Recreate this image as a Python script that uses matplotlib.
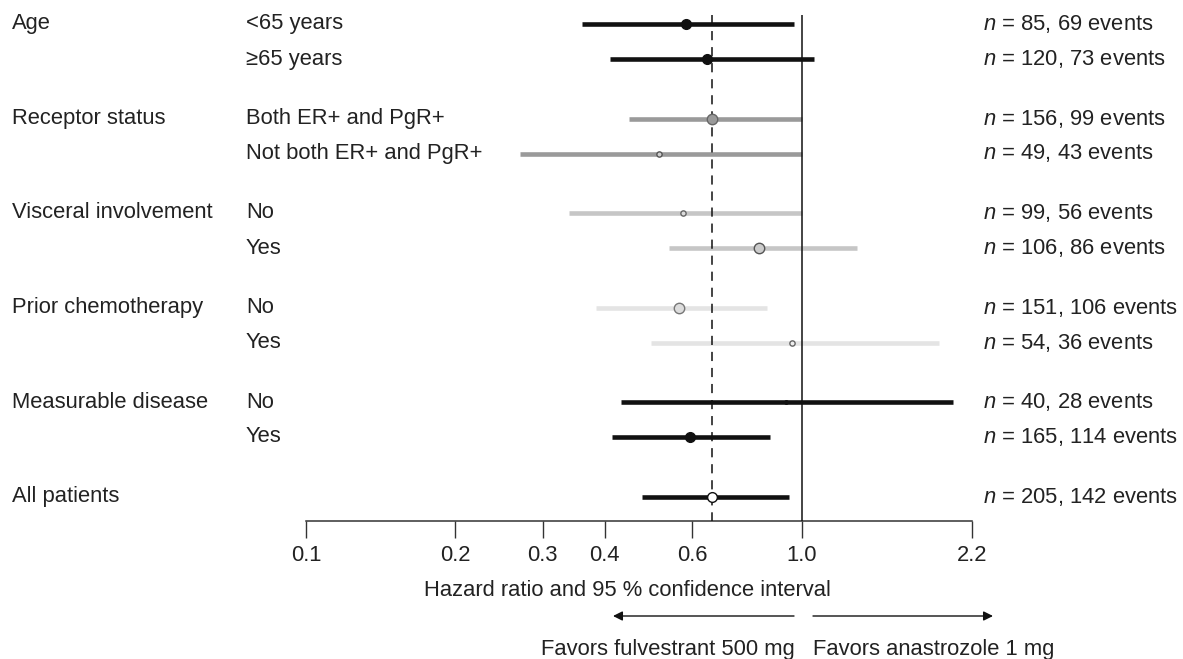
import matplotlib
matplotlib.use('Agg')
import matplotlib.pyplot as plt
from matplotlib import transforms
import numpy as np

plt.rcParams['font.family'] = ['Liberation Sans', 'DejaVu Sans']
plt.rcParams['mathtext.fontset'] = 'custom'
plt.rcParams['mathtext.rm'] = 'Liberation Sans'
plt.rcParams['mathtext.it'] = 'Liberation Sans:italic'

# data
groups = ['Age', 'Receptor status', 'Visceral involvement', 'Prior chemotherapy',
          'Measurable disease', 'All patients']
subgroups = [['<65 years', '\u226565 years'],
             ['Both ER+ and PgR+', 'Not both ER+ and PgR+'],
             ['No', 'Yes'],
             ['No', 'Yes'],
             ['No', 'Yes'],
             ['']]
hr = [[0.583, 0.643], [0.659, 0.515], [0.575, 0.819], [0.565, 0.955], [0.928, 0.594], [0.659]]
lower = [[0.360, 0.410], [0.448, 0.270], [0.339, 0.539], [0.384, 0.496], [0.432, 0.414], [0.476]]
upper = [[0.963, 1.057], [1.0, 1.0], [1.0, 1.29], [0.850, 1.889], [2.016, 0.862], [0.941]]
n_pat = [[85, 120], [156, 49], [99, 106], [151, 54], [40, 165], [205]]
n_evt = [[69, 73], [99, 43], [56, 86], [106, 36], [28, 114], [142]]
xticks = [0.1, 0.2, 0.3, 0.4, 0.6, 1.0, 2.2]
xtick_labels = ['0.1', '0.2', '0.3', '0.4', '0.6', '1.0', '2.2']

# styles per group
line_col = ['#111111', '#9a9a9a', '#c6c6c6', '#e4e4e4', '#111111', '#111111']
mfc = [['#111111', '#111111'], ['#9a9a9a', '#cfcfcf'], ['#dcdcdc', '#cccccc'],
       ['#dddddd', '#eeeeee'], ['#111111', '#111111'], ['white']]
mec = [['#111111', '#111111'], ['#666666', '#555555'], ['#666666', '#555555'],
       ['#777777', '#666666'], ['#111111', '#111111'], ['#111111']]
msize = [[7, 7], [7.5, 3.8], [3.8, 7.5], [7.5, 3.8], [2.5, 7], [7]]

txt_col = '#222222'
fs = 15.8

fig = plt.figure(figsize=(11.83, 6.59), dpi=100)
W, H = 1183.0, 659.0
ax = fig.add_axes([306 / W, 1 - 521 / H, 666 / W, 521 / H])
ax.set_xscale('log')
ax.set_xlim(0.1, 2.2)
ax.set_ylim(497 / 35.0, -24 / 35.0)

trans = transforms.blended_transform_factory(fig.transFigure, ax.transData)

y = 0.0
for g in range(len(groups)):
    ax.text(12 / W, y, groups[g], transform=trans, ha='left', va='center',
            fontsize=fs, color=txt_col)
    for k in range(len(subgroups[g])):
        yy = y + k
        ax.hlines(yy, lower[g][k], upper[g][k], color=line_col[g], lw=3.3,
                  capstyle='butt', zorder=2)
        ax.plot(hr[g][k], yy, 'o', ms=msize[g][k], mfc=mfc[g][k], mec=mec[g][k],
                mew=1.0, zorder=4)
        if subgroups[g][k]:
            ax.text(246 / W, yy, subgroups[g][k], transform=trans, ha='left',
                    va='center', fontsize=fs, color=txt_col)
        ax.text(983 / W, yy, '$n$ = %d, %d events' % (n_pat[g][k], n_evt[g][k]),
                transform=trans, ha='left', va='center', fontsize=fs, color=txt_col)
    y += len(subgroups[g]) - 1 + 1.7

ybot = ax.get_ylim()[0]
ytop = -9 / 35.0
ax.vlines(1.0, ytop, ybot, color='#111111', lw=1.1, zorder=3)
ax.vlines(hr[-1][0], ytop, ybot, color='#111111', lw=1.1, linestyles=(0, (6, 4.5)),
          zorder=3)

for s in ['top', 'left', 'right']:
    ax.spines[s].set_visible(False)
ax.spines['bottom'].set_color('#333333')
ax.spines['bottom'].set_linewidth(1.1)
ax.set_yticks([])
ax.set_xticks(xticks)
ax.set_xticklabels(xtick_labels)
ax.minorticks_off()
ax.tick_params(axis='x', direction='out', length=12, width=1.0,
               color='#333333', labelsize=fs, labelcolor=txt_col, pad=5)
ax.patch.set_visible(False)

fig.text(627 / W, 1 - 590 / H, 'Hazard ratio and 95 % confidence interval',
         ha='center', va='center', fontsize=fs, color=txt_col)

ay = 1 - 616 / H
ax.annotate('', xy=(613 / W, ay), xytext=(794 / W, ay), xycoords='figure fraction',
            arrowprops=dict(arrowstyle='-|>', color='#111111', lw=1.0,
                            mutation_scale=14, shrinkA=0, shrinkB=0))
ax.annotate('', xy=(993 / W, ay), xytext=(813 / W, ay), xycoords='figure fraction',
            arrowprops=dict(arrowstyle='-|>', color='#111111', lw=1.0,
                            mutation_scale=14, shrinkA=0, shrinkB=0))
fig.text(795 / W, 1 - 650 / H, 'Favors fulvestrant 500 mg', ha='right', va='center',
         fontsize=fs, color=txt_col)
fig.text(813 / W, 1 - 650 / H, 'Favors anastrozole 1 mg', ha='left', va='center',
         fontsize=fs, color=txt_col)

fig.savefig('out.png', dpi=100)
